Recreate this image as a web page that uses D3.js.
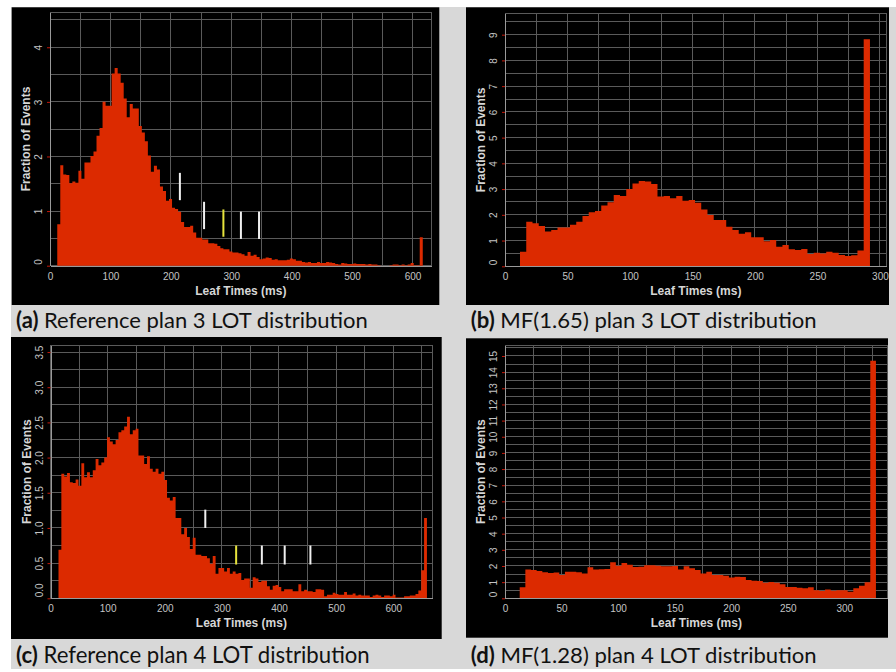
<!DOCTYPE html>
<html>
<head>
<meta charset="utf-8">
<script src="https://cdn.jsdelivr.net/npm/d3@7"></script>
<style>
  body { margin: 0; background: #fff; }
  svg { display: block; }
</style>
</head>
<body>
<div id="chart"></div>
<script>
// histogram bins are 5 ms wide, values are "fraction of events"
const binWidthMs = 5

const refPlan3Start = 12
const refPlan3 = [
  0.76, 1.84, 1.67, 1.66, 1.51, 1.54, 1.52, 1.74, 1.59, 1.89,
  1.89, 2.01, 2.09, 2.38, 2.52, 3.00, 2.93, 2.93, 3.52, 3.62,
  3.52, 3.35, 3.06, 2.72, 2.96, 2.88, 2.88, 2.56, 2.44, 2.28,
  2.02, 1.72, 1.83, 1.76, 1.45, 1.37, 1.19, 1.22, 1.06, 1.04,
  0.99, 0.80, 0.71, 0.71, 0.73, 0.61, 0.51, 0.51, 0.48, 0.48,
  0.41, 0.41, 0.40, 0.36, 0.32, 0.30, 0.30, 0.26, 0.24, 0.24,
  0.23, 0.21, 0.18, 0.25, 0.18, 0.20, 0.16, 0.12, 0.13, 0.15,
  0.14, 0.11, 0.12, 0.10, 0.10, 0.10, 0.11, 0.13, 0.12, 0.09,
  0.09, 0.07, 0.06, 0.07, 0.05, 0.05, 0.07, 0.05, 0.05, 0.07,
  0.06, 0.05, 0.03, 0.02, 0.05, 0.04, 0.03, 0.03, 0.04, 0.03,
  0.03, 0.03, 0.02, 0.03, 0.02, 0.02, 0.01, 0.00, 0.00, 0.00,
  0.01, 0.02, 0.02, 0.01, 0.02, 0.01, 0.02, 0.05, 0.01, 0.01,
  0.52
]

const mfPlan3Start = 12
const mfPlan3 = [
  0.57, 1.73, 1.67, 1.57, 1.35, 1.41, 1.51, 1.51, 1.61, 1.73,
  1.95, 2.10, 2.15, 2.36, 2.49, 2.77, 2.73, 3.00, 3.22, 3.31,
  3.29, 3.20, 2.71, 2.73, 2.64, 2.73, 2.55, 2.58, 2.47, 2.21,
  1.99, 1.80, 1.80, 1.54, 1.41, 1.26, 1.32, 1.13, 1.13, 0.97,
  1.02, 0.76, 0.83, 0.66, 0.63, 0.67, 0.48, 0.53, 0.50, 0.57,
  0.53, 0.44, 0.40, 0.43, 0.61, 8.82
]

const refPlan4Start = 14
const refPlan4 = [
  0.69, 1.77, 1.73, 1.78, 1.65, 1.64, 1.69, 1.60, 1.92, 1.72,
  1.79, 1.72, 1.82, 1.98, 1.89, 1.93, 2.00, 2.29, 2.23, 2.19,
  2.25, 2.36, 2.39, 2.44, 2.58, 2.33, 2.39, 2.41, 2.03, 2.03,
  1.91, 2.02, 1.84, 1.80, 1.84, 1.77, 1.80, 1.68, 1.43, 1.39,
  1.44, 1.14, 1.14, 0.91, 1.00, 0.87, 0.70, 0.86,
  0.62, 0.62, 0.60, 0.60, 0.57, 0.49, 0.60, 0.35, 0.43, 0.43,
  0.38, 0.43, 0.35, 0.38, 0.35, 0.36, 0.26, 0.28, 0.28, 0.15,
  0.30, 0.28, 0.23, 0.25, 0.25, 0.17, 0.12, 0.18, 0.19, 0.16,
  0.10, 0.13, 0.13, 0.13, 0.10, 0.10, 0.20, 0.10, 0.12, 0.10,
  0.10, 0.09, 0.13, 0.13, 0.12, 0.03, 0.05, 0.05, 0.08, 0.06,
  0.05, 0.05, 0.09, 0.05, 0.05, 0.07, 0.04, 0.05, 0.04, 0.04,
  0.04, 0.02, 0.04, 0.05, 0.04, 0.02, 0.04, 0.04, 0.03, 0.05,
  0.01, 0.01, 0.01, 0.03, 0.03, 0.04, 0.04, 0.06, 0.11, 0.40,
  1.14
]

const mfPlan4Start = 13
const mfPlan4 = [
  0.68, 1.78, 1.75, 1.69, 1.61, 1.57, 1.59, 1.44, 1.65, 1.65,
  1.61, 1.53, 1.92, 1.78, 1.80, 1.82, 2.23, 2.02, 2.19, 2.08,
  1.94, 1.96, 2.04, 2.04, 2.02, 1.98, 1.98, 2.00, 1.78, 1.98,
  1.86, 1.75, 1.53, 1.65, 1.44, 1.44, 1.40, 1.28, 1.34, 1.32,
  1.14, 1.09, 1.07, 0.97, 1.01, 0.97, 0.87, 0.70, 0.70, 0.66,
  0.62, 0.68, 0.50, 0.45, 0.54, 0.47, 0.50, 0.50, 0.41, 0.62,
  0.78, 0.99, 14.70
]

// vertical summary marks drawn on the reference plots (ms, low, high)
const refPlan3Marks = [
  { t: 215, lo: 1.20, hi: 1.70, kind: 'pct' },
  { t: 255, lo: 0.67, hi: 1.17, kind: 'pct' },
  { t: 287, lo: 0.53, hi: 1.03, kind: 'mean' },
  { t: 316, lo: 0.49, hi: 0.99, kind: 'pct' },
  { t: 346, lo: 0.49, hi: 0.99, kind: 'pct' }
]
const refPlan4Marks = [
  { t: 271, lo: 1.00, hi: 1.26, kind: 'pct' },
  { t: 325, lo: 0.48, hi: 0.75, kind: 'mean' },
  { t: 370, lo: 0.48, hi: 0.75, kind: 'pct' },
  { t: 410, lo: 0.48, hi: 0.75, kind: 'pct' },
  { t: 455, lo: 0.48, hi: 0.75, kind: 'pct' }
]

const xTicksLong = [0, 100, 200, 300, 400, 500, 600]
const xTicksShort = [0, 50, 100, 150, 200, 250, 300]
const yTicksA = [0, 1, 2, 3, 4]
const yTicksB = [0, 1, 2, 3, 4, 5, 6, 7, 8, 9]
const yTicksC = [0, 0.5, 1, 1.5, 2, 2.5, 3, 3.5]
const yTicksD = [0, 1, 2, 3, 4, 5, 6, 7, 8, 9, 10, 11, 12, 13, 14, 15]

const captionTags = ['(a)', '(b)', '(c)', '(d)']
const captionTexts = [
  'Reference plan 3 LOT distribution',
  'MF(1.65) plan 3 LOT distribution',
  'Reference plan 4 LOT distribution',
  'MF(1.28) plan 4 LOT distribution'
]

const panels = [
  {
    values: refPlan3, start: refPlan3Start, marks: refPlan3Marks,
    xTicks: xTicksLong, yTicks: yTicksA, yFormat: d3.format('d'),
    bg: [11.7, 7.3, 427.6, 297.7],
    left: 50, right: 431.7, top: 12.3, bottom: 265.7,
    xMax: 631.8, yMax: 4.64, xGrid: 50, yGrid: 0.5,
    cap: { x: 16, y: 328.3, w: 352 }
  },
  {
    values: mfPlan3, start: mfPlan3Start, marks: [],
    xTicks: xTicksShort, yTicks: yTicksB, yFormat: d3.format('d'),
    bg: [466, 7.3, 423, 297.7],
    left: 505, right: 886.7, top: 13.3, bottom: 266.3,
    xMax: 305.4, yMax: 9.83, xGrid: 25, yGrid: 0.5,
    cap: { x: 470.7, y: 328.3, w: 346 }
  },
  {
    values: refPlan4, start: refPlan4Start, marks: refPlan4Marks,
    xTicks: xTicksLong, yTicks: yTicksC, yFormat: d3.format('.1f'),
    bg: [11, 337, 430.7, 302],
    left: 50.5, right: 432.3, top: 345, bottom: 598.3,
    xMax: 668.4, yMax: 3.6, xGrid: 50, yGrid: 0.25,
    cap: { x: 16, y: 663.3, w: 354 }
  },
  {
    values: mfPlan4, start: mfPlan4Start, marks: [],
    xTicks: xTicksShort, yTicks: yTicksD, yFormat: d3.format('d'),
    bg: [466, 338.3, 422, 299.4],
    left: 505, right: 887.7, top: 345, bottom: 598.3,
    xMax: 338.4, yMax: 15.68, xGrid: 25, yGrid: 0.5,
    cap: { x: 470.7, y: 663.3, w: 346 }
  }
]

const svg = d3.select('#chart')
  .append('svg')
  .attr('width', 896)
  .attr('height', 672)

svg.append('rect')
  .attr('x', 11).attr('y', 7)
  .attr('width', 885).attr('height', 662)
  .attr('fill', '#d8d8d8')

panels.forEach((p, i) => drawPanel(p, i))

function drawPanel (p, idx) {
  const g = svg.append('g')
  g.append('rect')
    .attr('x', p.bg[0]).attr('y', p.bg[1])
    .attr('width', p.bg[2]).attr('height', p.bg[3])
    .attr('fill', '#000')

  const x = d3.scaleLinear().domain([0, p.xMax]).range([p.left, p.right])
  const y = d3.scaleLinear().domain([0, p.yMax]).range([p.bottom, p.top])

  // Grid
  const grid = g.append('g')
    .attr('stroke', '#5a5a5a')
    .attr('stroke-width', 1)
    .attr('shape-rendering', 'crispEdges')
  grid.selectAll('line.v')
    .data(d3.range(p.xGrid, p.xMax, p.xGrid))
    .enter().append('line')
    .attr('x1', d => x(d)).attr('x2', d => x(d))
    .attr('y1', p.top).attr('y2', p.bottom)
  grid.selectAll('line.h')
    .data(d3.range(p.yGrid, p.yMax, p.yGrid))
    .enter().append('line')
    .attr('x1', p.left).attr('x2', p.right)
    .attr('y1', d => y(d)).attr('y2', d => y(d))
  grid.append('rect')
    .attr('x', p.left).attr('y', p.top)
    .attr('width', p.right - p.left).attr('height', p.bottom - p.top)
    .attr('fill', 'none')

  // Histogram as one stepped area so neighbouring bins do not leave seams
  const bins = p.values.map((v, i) => ({ t: p.start + i * binWidthMs, v }))
  bins.push({ t: p.start + p.values.length * binWidthMs, v: p.values[p.values.length - 1] })
  const area = d3.area()
    .x(d => x(d.t))
    .y0(y(0))
    .y1(d => y(d.v))
    .curve(d3.curveStepAfter)
  g.append('path')
    .datum(bins)
    .attr('d', area)
    .attr('fill', '#dc2a00')

  // Summary marks
  g.selectAll('line.mark')
    .data(p.marks)
    .enter().append('line')
    .attr('x1', d => x(d.t)).attr('x2', d => x(d.t))
    .attr('y1', d => y(d.lo)).attr('y2', d => y(d.hi))
    .attr('stroke', d => d.kind === 'mean' ? '#e6e33c' : '#f0f0f0')
    .attr('stroke-width', 2)

  // Axes
  const xAxis = g.append('g')
    .attr('transform', `translate(0,${p.bottom})`)
    .call(d3.axisBottom(x).tickValues(p.xTicks).tickSize(0).tickSizeOuter(0))
  xAxis.select('.domain').attr('stroke', '#9a9a9a')
  xAxis.selectAll('text')
    .attr('y', 7)
    .attr('fill', '#c4c4c4')
    .attr('font-family', 'Liberation Sans, Arial, sans-serif')
    .attr('font-size', 10)

  const yAxis = g.append('g')
    .attr('transform', `translate(${p.left},0)`)
    .call(d3.axisLeft(y).tickValues(p.yTicks).tickFormat(p.yFormat).tickSize(3).tickSizeOuter(0))
  yAxis.select('.domain').attr('stroke', '#9a9a9a')
  yAxis.selectAll('.tick line').attr('stroke', '#c4180a')
  yAxis.selectAll('text')
    .attr('transform', 'rotate(-90)')
    .attr('x', d => d === 0 ? 1.5 : 0)
    .attr('y', -8)
    .attr('dy', null)
    .attr('text-anchor', d => d === 0 ? 'start' : 'middle')
    .attr('fill', '#c4c4c4')
    .attr('font-family', 'Liberation Sans, Arial, sans-serif')
    .attr('font-size', 10)
  g.selectAll('.domain').attr('shape-rendering', 'crispEdges')

  // Axis titles
  g.append('text')
    .attr('x', (p.left + p.right) / 2)
    .attr('y', p.bottom + 29)
    .attr('text-anchor', 'middle')
    .attr('fill', '#d6d6d6')
    .attr('font-family', 'Liberation Sans, Arial, sans-serif')
    .attr('font-weight', 'bold')
    .attr('font-size', 12)
    .text('Leaf Times (ms)')
  g.append('text')
    .attr('transform', `translate(${p.left - 19.7},${(p.top + p.bottom) / 2}) rotate(-90)`)
    .attr('text-anchor', 'middle')
    .attr('fill', '#d6d6d6')
    .attr('font-family', 'Liberation Sans, Arial, sans-serif')
    .attr('font-weight', 'bold')
    .attr('font-size', 12)
    .text('Fraction of Events')

  // Caption under the panel, scaled to the measured width
  const cap = svg.append('text')
    .attr('x', p.cap.x)
    .attr('y', p.cap.y)
    .attr('fill', '#111')
    .attr('font-family', 'Lato, Open Sans, sans-serif')
    .attr('font-size', 20)
  cap.append('tspan').attr('font-weight', 'bold').text(captionTags[idx])
  cap.append('tspan').text(' ' + captionTexts[idx])
  const w = cap.node().getComputedTextLength()
  cap.attr('font-size', 20 * p.cap.w / w)
}
</script>
</body>
</html>
